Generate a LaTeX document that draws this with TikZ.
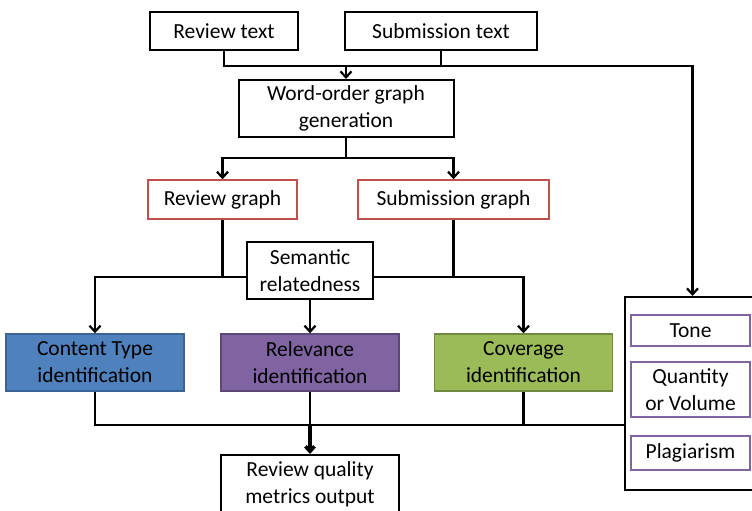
\documentclass[tikz,border=0pt]{standalone}
\usepackage{fontspec}
\setmainfont{Carlito}
\usetikzlibrary{arrows, arrows.meta, backgrounds}
\definecolor{graphred}{HTML}{C0504D}
\definecolor{metricpurple}{HTML}{8064A2}
\definecolor{typeblue}{HTML}{4F81BD}
\definecolor{typeblueline}{HTML}{3A6496}
\definecolor{relpurple}{HTML}{8064A2}
\definecolor{relpurpleline}{HTML}{5C4776}
\definecolor{covgreen}{HTML}{9BBB59}
\definecolor{covgreenline}{HTML}{71893F}
\tikzstyle{textbox} = [
    rectangle,
    align=center,
    inner sep=0pt,
    fill=white,
    draw=black,
    line width=2pt,
    font=\fontsize{21.5}{27}\selectfont
]
\tikzstyle{graphbox} = [
    textbox,
    draw=graphred,
    line width=1.4pt
]
\tikzstyle{metricbox} = [
    textbox,
    draw=metricpurple,
    line width=1.6pt,
    minimum width=119pt
]
\tikzstyle{identify} = [
    textbox,
    line width=1.4pt,
    minimum width=178pt,
    minimum height=57pt
]
\tikzstyle{line} = [line width=2.2pt]
\tikzstyle{arrow} = [line width=2.2pt,->,>={Straight Barb[length=6pt,width=11pt]}]
\tikzstyle{bigarrow} = [line width=3.6pt,->,>={Straight Barb[length=5pt,width=9pt]}]

\begin{document}
\begin{tikzpicture}[x=1pt, y=-1pt]

\useasboundingbox (0,0) rectangle (752,511);

\node (review) [textbox, minimum width=148pt, minimum height=38pt] at (224,31) {Review text};

\node (submission) [textbox, minimum width=192pt, minimum height=38pt] at (441,31) {Submission text};

\node (wordorder) [textbox, minimum width=215pt, minimum height=57pt] at (346,108.5)
{Word-order graph\\generation};

\node (revgraph) [graphbox, minimum width=149pt, minimum height=39pt] at (222.5,199.5) {Review graph};

\node (subgraph) [graphbox, minimum width=191pt, minimum height=39pt] at (453.5,199.5) {Submission graph};

\node (semantic) [textbox, minimum width=126pt, minimum height=57pt] at (310,270.5)
{Semantic\\relatedness};

\node (content) [identify, fill=typeblue, draw=typeblueline] at (95,362.5)
{Content Type\\identification};

\node (relevance) [identify, fill=relpurple, draw=relpurpleline] at (310,362.5)
{Relevance\\identification};

\node (coverage) [identify, fill=covgreen, draw=covgreenline] at (523.5,362.5)
{Coverage\\identification};

\node (output) [textbox, minimum width=178pt, minimum height=58pt] at (310,484)
{Review quality\\metrics output};

\node (metrics) [textbox, minimum width=135pt, minimum height=193pt] at (692.5,393.5) {};

\node (tone) [metricbox, minimum height=31pt] at (690.5,330.5) {Tone};

\node (quantity) [metricbox, minimum height=55pt] at (690.5,389.5) {Quantity\\or Volume};

\node (plagiarism) [metricbox, minimum height=34pt] at (690.5,453) {Plagiarism};

\coordinate (textjoin) at (346,66);
\coordinate (graphjoin) at (346,158);
\coordinate (semjoin) at (310,277);
\coordinate (outjoin) at (310,425);

\begin{scope}[on background layer]
\draw [line] (review.south) |- (textjoin);
\draw [line] (submission.south) |- (textjoin);
\draw [arrow] (submission.south |- textjoin) -| (metrics.north);
\draw [arrow] (textjoin) -- (wordorder.north);
\draw [line] (wordorder.south) -- (graphjoin);
\draw [arrow] (graphjoin) -| (revgraph.north);
\draw [arrow] (graphjoin) -| (subgraph.north);
\draw [arrow] (revgraph.south) |- (semjoin) -| (content.north);
\draw [line] (revgraph.south |- semjoin) -- (subgraph.south |- semjoin);
\draw [arrow] (subgraph.south) |- (semjoin) -| (coverage.north);
\draw [arrow] (semantic.south) -- (relevance.north);
\draw [line] (content.south) |- (metrics.west |- outjoin);
\draw [line] (relevance.south) -- (outjoin);
\draw [line] (coverage.south) -- (coverage.south |- outjoin);
\draw [bigarrow] (outjoin) -- (output.north);
\end{scope}

\end{tikzpicture}
\end{document}
